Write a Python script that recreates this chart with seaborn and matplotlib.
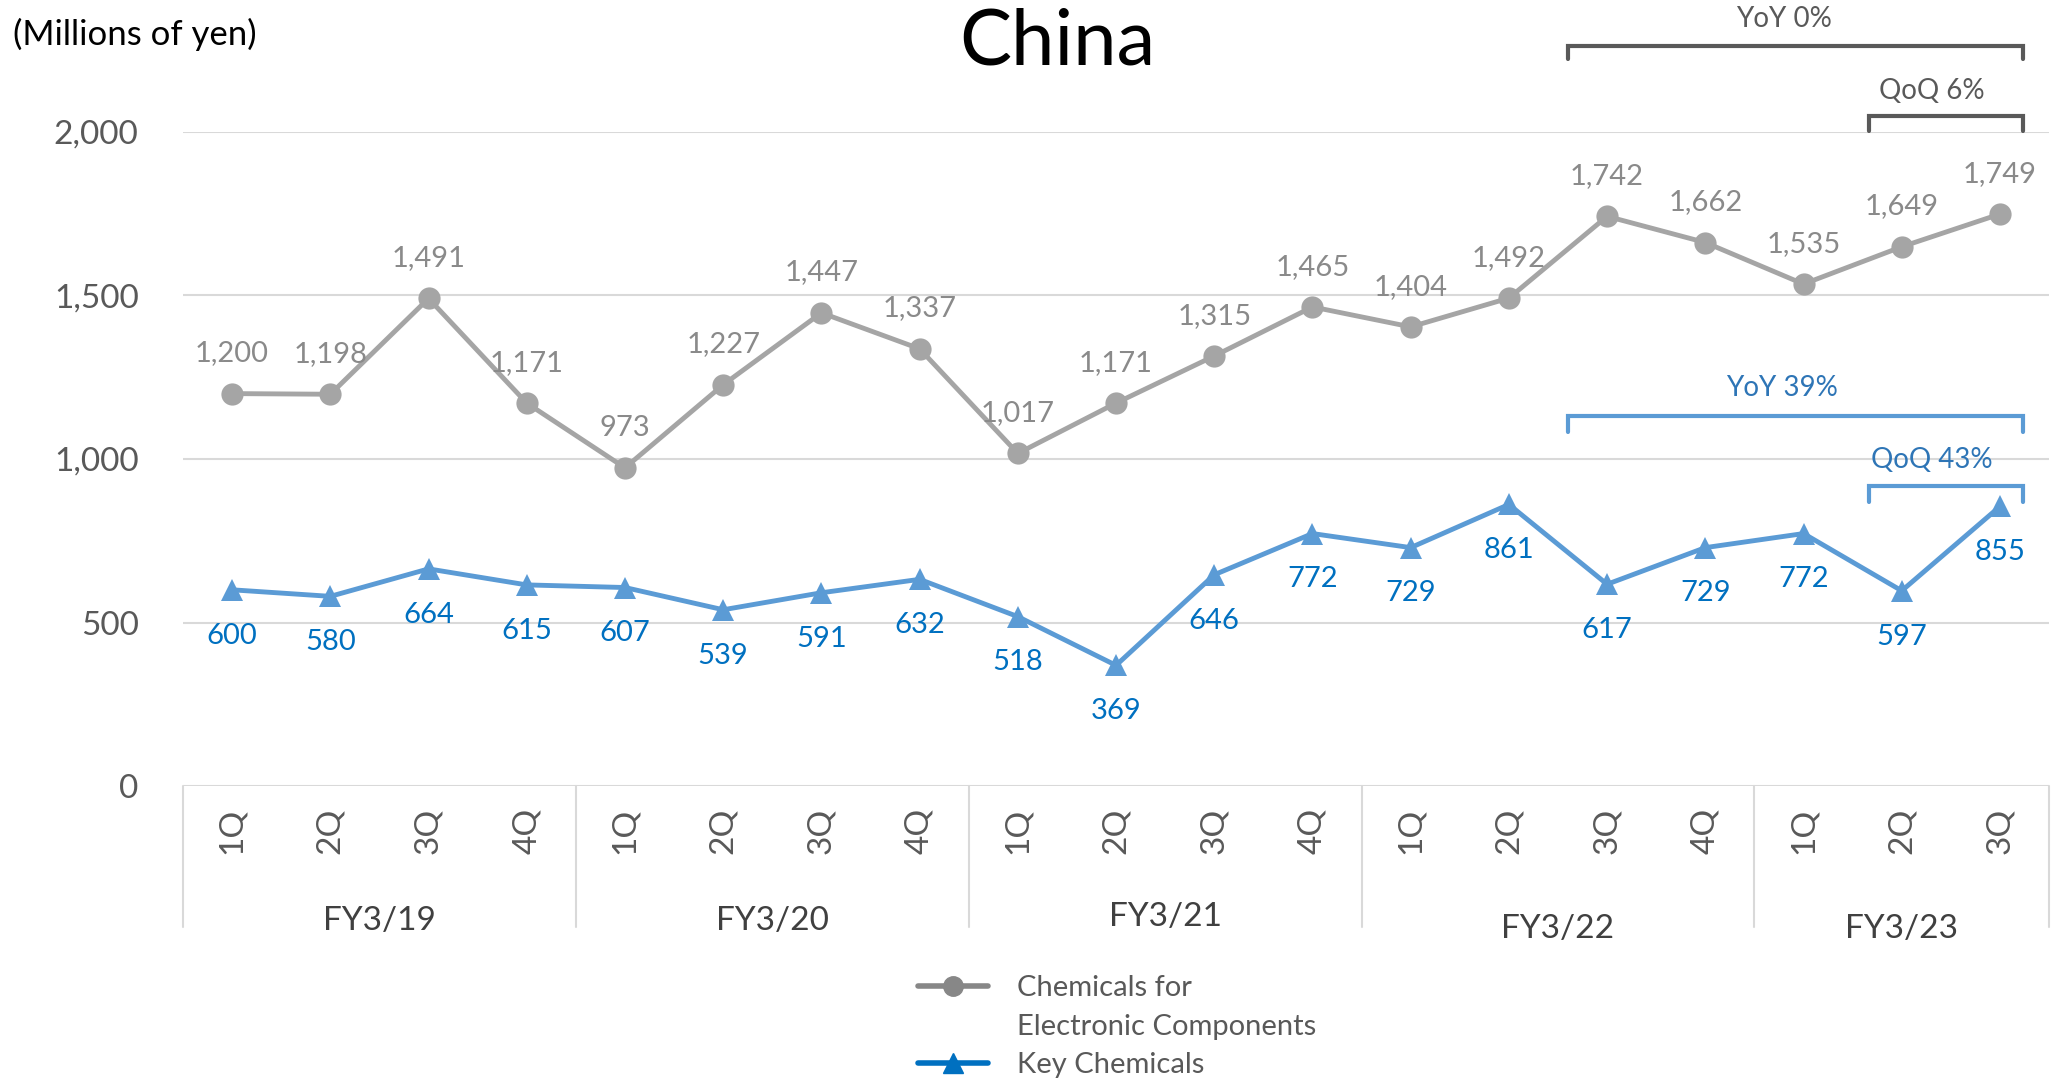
import numpy as np
import pandas as pd
import seaborn as sns
import matplotlib
matplotlib.use("Agg")
import matplotlib.pyplot as plt
from matplotlib.lines import Line2D
import matplotlib.transforms as mtransforms

# ---- data -------------------------------------------------------------
fiscal_years = ["FY3/19", "FY3/20", "FY3/21", "FY3/22", "FY3/23"]
quarters_per_year = [4, 4, 4, 4, 3]
quarter_labels = ["1Q", "2Q", "3Q", "4Q",
                  "1Q", "2Q", "3Q", "4Q",
                  "1Q", "2Q", "3Q", "4Q",
                  "1Q", "2Q", "3Q", "4Q",
                  "1Q", "2Q", "3Q"]
electronic_components = [1200, 1198, 1491, 1171, 973, 1227, 1447, 1337, 1017,
                         1171, 1315, 1465, 1404, 1492, 1742, 1662, 1535, 1649, 1749]
key_chemicals = [600, 580, 664, 615, 607, 539, 591, 632, 518,
                 369, 646, 772, 729, 861, 617, 729, 772, 597, 855]
series_names = ["Chemicals for\nElectronic Components", "Key Chemicals"]
y_ticks = [0, 500, 1000, 1500, 2000]

GRAY_LINE = "#A5A5A5"
GRAY_TEXT = "#8A8A8A"
BLUE_LINE = "#5B9BD5"
BLUE_TEXT = "#0070C0"
AXIS_TEXT = "#595959"

# ---- figure -----------------------------------------------------------
sns.set_theme(style="white")
plt.rcParams["font.family"] = ["Lato", "DejaVu Sans"]

fig = plt.figure(figsize=(20.54, 10.80), dpi=100)
ax = fig.add_axes([0.0891, 0.2722, 0.9085, 0.6056])

n = len(quarter_labels)
pos = np.arange(n)
df = pd.DataFrame({
    "pos": np.concatenate([pos, pos]),
    "value": electronic_components + key_chemicals,
    "series": [series_names[0]] * n + [series_names[1]] * n,
})

sns.lineplot(data=df, x="pos", y="value", hue="series", style="series",
             palette={series_names[0]: GRAY_LINE, series_names[1]: BLUE_LINE},
             markers={series_names[0]: "o", series_names[1]: "^"},
             dashes=False, linewidth=3.5, markersize=16,
             markeredgewidth=0, ax=ax, legend=False, zorder=3)

# value labels
for x, v in zip(pos, electronic_components):
    ax.annotate(f"{v:,}", (x, v), xytext=(0, 29), textcoords="offset points",
                ha="center", va="center", fontsize=21, color=GRAY_TEXT)
for x, v in zip(pos, key_chemicals):
    ax.annotate(f"{v:,}", (x, v), xytext=(0, -33), textcoords="offset points",
                ha="center", va="center", fontsize=21, color=BLUE_TEXT)

# axes styling
ax.set_xlim(-0.5, n - 0.5)
ax.set_ylim(0, 2000)
ax.set_yticks(y_ticks)
ax.set_yticklabels([f"{t:,}" for t in y_ticks])
ax.yaxis.grid(True, color="#D9D9D9", linewidth=1.5)
ax.set_axisbelow(True)
for s in ax.spines.values():
    s.set_visible(False)
ax.tick_params(axis="y", length=0, pad=32, labelsize=24, labelcolor=AXIS_TEXT)
ax.set_xticks(pos)
ax.set_xticklabels(quarter_labels, rotation=90)
ax.tick_params(axis="x", length=0, pad=16, labelsize=24, labelcolor=AXIS_TEXT)
ax.set_xlabel("")
ax.set_ylabel("")

# category separators and fiscal-year labels below the axis
trans = mtransforms.blended_transform_factory(ax.transData, ax.transAxes)
bounds = np.concatenate([[0], np.cumsum(quarters_per_year)]) - 0.5
for b in bounds:
    ax.plot([b, b], [0, -0.2156], transform=trans, color="#D9D9D9",
            linewidth=1.5, clip_on=False)
year_label_y = [-0.206, -0.206, -0.200, -0.218, -0.218]
for i, fy in enumerate(fiscal_years):
    ax.text((bounds[i] + bounds[i + 1]) / 2, year_label_y[i], fy, transform=trans,
            ha="center", va="center", fontsize=24, color="#404040")


# growth brackets
def bracket(x0, x1, y, drop, text, text_x, text_y, line_color, text_color):
    ax.plot([x0, x0, x1, x1], [y - drop, y, y, y - drop], color=line_color,
            linewidth=3, clip_on=False, solid_joinstyle="miter", zorder=4)
    ax.text(text_x, text_y, text, ha="center", va="center",
            fontsize=20, color=text_color, clip_on=False)


bracket(13.6, 18.23, 2264, 42, "YoY 0%", 15.8, 2345, "#595959", "#595959")
bracket(16.67, 18.23, 2048, 44, "QoQ 6%", 17.31, 2124, "#595959", "#595959")
bracket(13.6, 18.23, 1130, 48, "YoY 39%", 15.78, 1218, BLUE_LINE, "#2E75B6")
bracket(16.67, 18.23, 918, 48, "QoQ 43%", 17.31, 996, BLUE_LINE, "#2E75B6")

# titles
fig.text(0.515, 0.960, "China", ha="center", va="center", fontsize=56, color="black")
fig.text(0.0063, 0.9685, "(Millions of yen)", ha="left", va="center",
         fontsize=25, color="black")

# legend
handles = [
    Line2D([], [], color="#878787", linewidth=4, marker="o", markersize=14),
    Line2D([], [], color="none"),
    Line2D([], [], color=BLUE_TEXT, linewidth=4, marker="^", markersize=14),
]
labels = ["Chemicals for", "Electronic Components", "Key Chemicals"]
fig.legend(handles, labels, loc="upper left", bbox_to_anchor=(0.447, 0.097),
           frameon=False, fontsize=21, labelcolor=AXIS_TEXT, handlelength=2.4,
           handletextpad=1.0, labelspacing=0.43, borderpad=0, borderaxespad=0)

fig.savefig("out.png", dpi=100)
